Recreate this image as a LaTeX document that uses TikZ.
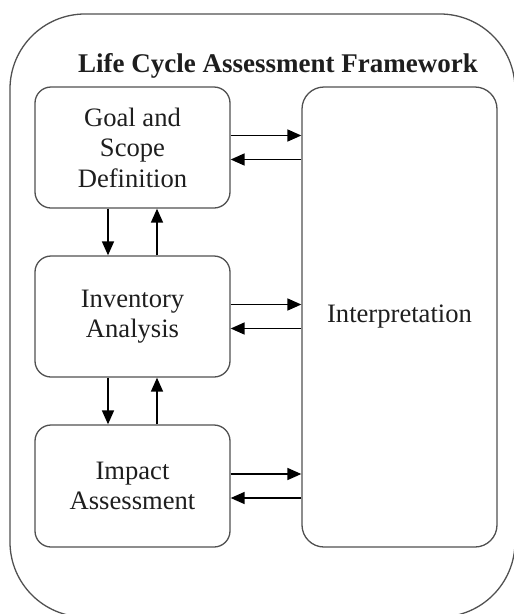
\documentclass[tikz,border=0pt]{standalone}
\usepackage{fontspec}
\setmainfont{Liberation Serif}
\usetikzlibrary{arrows.meta,calc}
\definecolor{edge}{HTML}{505050}
\definecolor{ink}{HTML}{1E1E1E}
\tikzset{
  box/.style={draw=edge, line width=1.3pt, rounded corners=16pt, minimum width=195pt, align=center, text=ink, font=\fontsize{26.6}{30.5}\selectfont, inner sep=0pt},
  arr/.style={line width=1.6pt, -{Triangle[length=14pt,width=12pt]}},
}
\begin{document}
\begin{tikzpicture}[x=1pt,y=-1pt]
\useasboundingbox (0,0) rectangle (514,614);
\clip (0,0) rectangle (514,614);
\draw[draw=edge, line width=1.3pt, rounded corners=75pt] (10,14) rectangle (515,617);
\node[font=\bfseries\fontsize{27}{30}\selectfont, text=ink, anchor=base] (title) at (278,72) {Life Cycle Assessment Framework};
\node[box, minimum height=121pt] (goal) at (132.5,147.5) {Goal and\\Scope\\Definition};
\node[box, minimum height=121pt] (inv) at (132.5,316.5) {Inventory\\Analysis};
\node[box, minimum height=122pt] (imp) at (132.5,486) {Impact\\Assessment};
\node[box, minimum height=460pt, rounded corners=22pt] (interp) at (399.5,317) {Interpretation};
\foreach \b in {goal,inv,imp}{
  \draw[arr] ([yshift=12pt]\b.east) -- ([yshift=12pt]\b.east -| interp.west);
  \draw[arr] ([yshift=-12pt]\b.east -| interp.west) -- ([yshift=-12pt]\b.east);
}
\draw[arr] ([xshift=-24.5pt]goal.south) -- ([xshift=-24.5pt]inv.north);
\draw[arr] ([xshift=24.5pt]inv.north) -- ([xshift=24.5pt]goal.south);
\draw[arr] ([xshift=-24.5pt]inv.south) -- ([xshift=-24.5pt]imp.north);
\draw[arr] ([xshift=24.5pt]imp.north) -- ([xshift=24.5pt]inv.south);
\end{tikzpicture}
\end{document}
